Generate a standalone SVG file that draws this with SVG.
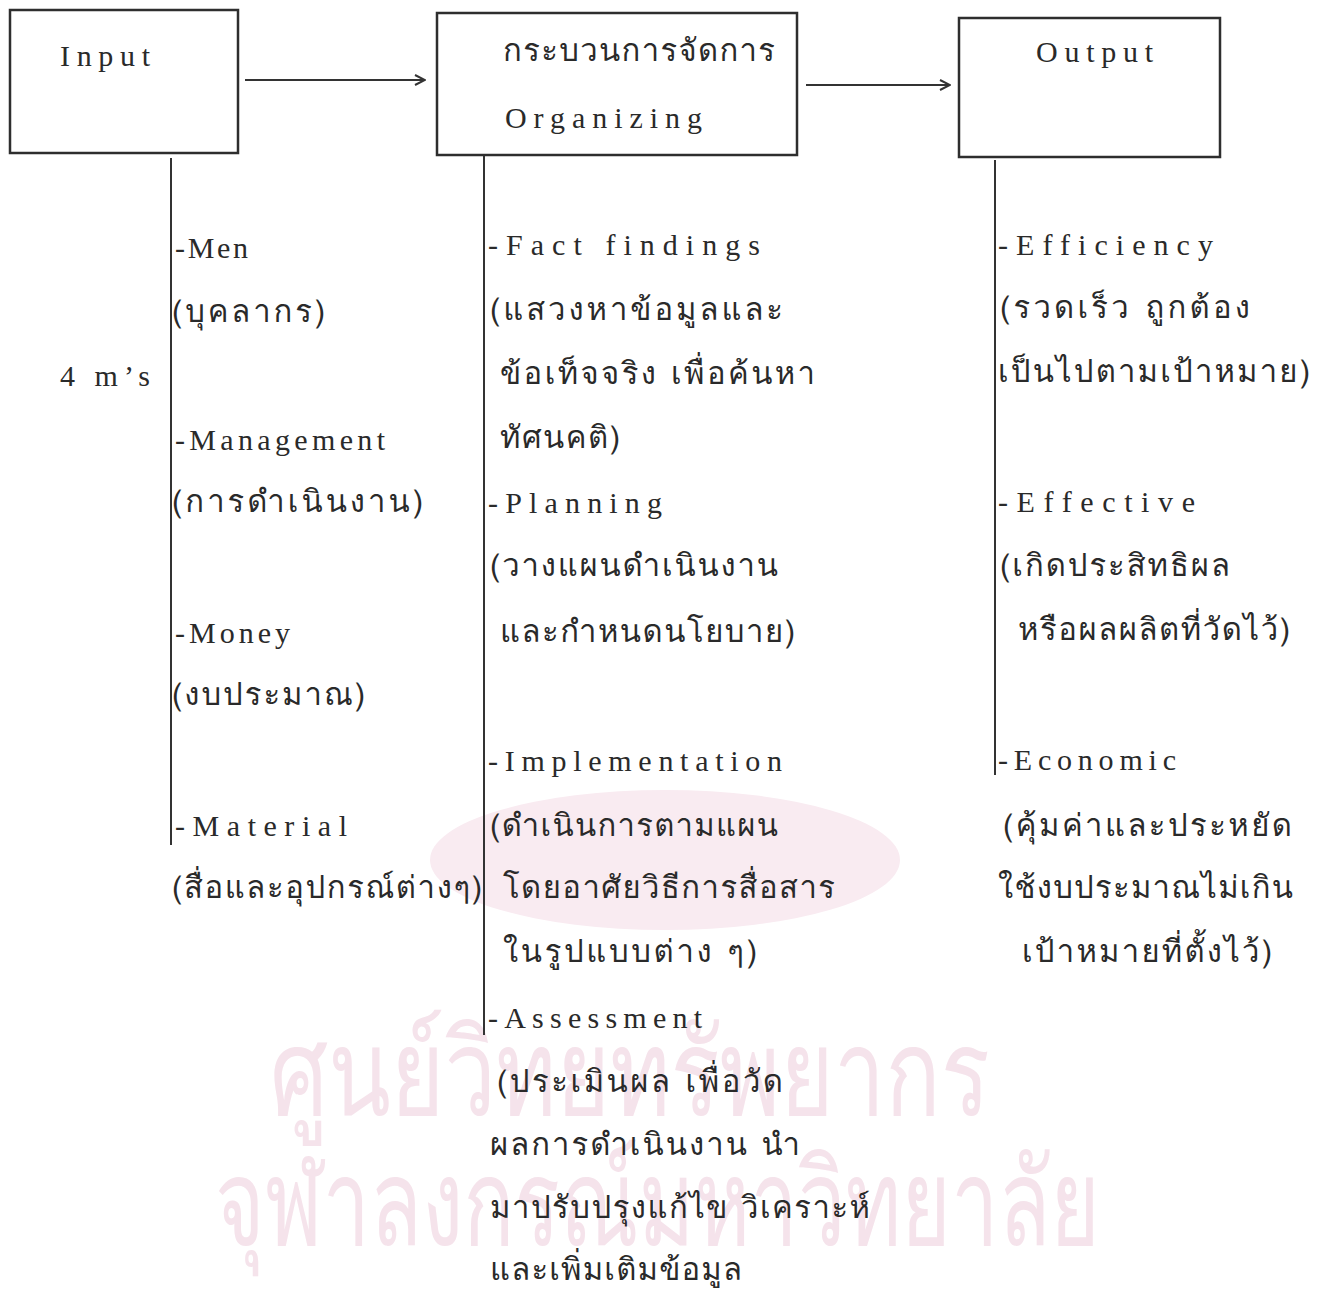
<svg xmlns="http://www.w3.org/2000/svg" width="1325" height="1296" viewBox="0 0 1325 1296">
<defs>
<style>
.box{fill:none;stroke:#2e2e2e;stroke-width:2.5}
.ln{fill:none;stroke:#333;stroke-width:2}
.en{font-family:"Liberation Serif","DejaVu Serif",serif;font-size:30px;fill:#2a2a2a}
.th{font-family:"Loma","Noto Sans Thai","Garuda","Tlwg Typist","Noto Sans",sans-serif;font-size:31px;fill:#2a2a2a}
.wm{font-family:"Loma","Noto Sans Thai","Garuda","Noto Sans",sans-serif;font-size:120px;fill:#f5e3eb}
</style>
<marker id="arr" viewBox="0 0 12 12" refX="11" refY="6" markerWidth="12" markerHeight="12" markerUnits="userSpaceOnUse" orient="auto">
<path d="M1,1 L11,6 L1,11" fill="none" stroke="#333" stroke-width="2"/>
</marker>
</defs>
<rect width="1325" height="1296" fill="#fff"/>
<g id="watermark">
<ellipse cx="665" cy="860" rx="235" ry="70" fill="#f9ebf1"/>
<text class="wm" x="270" y="1115" textLength="720" lengthAdjust="spacingAndGlyphs">ศูนย์วิทยทรัพยากร</text>
<text class="wm" x="215" y="1245" textLength="885" lengthAdjust="spacingAndGlyphs">จุฬาลงกรณ์มหาวิทยาลัย</text>
</g>
<g id="connectors">
<line class="ln" x1="245" y1="80" x2="425" y2="80" marker-end="url(#arr)"/>
<line class="ln" x1="806" y1="85" x2="950" y2="85" marker-end="url(#arr)"/>
<line class="ln" x1="171" y1="158" x2="171" y2="845"/>
<line class="ln" x1="484" y1="156" x2="484" y2="1035"/>
<line class="ln" x1="995" y1="160" x2="995" y2="775"/>
</g>
<g id="input">
<rect class="box" x="10" y="10" width="228" height="143"/>
<text class="en" x="60" y="66" textLength="90">Input</text>
</g>
<g id="organizing">
<rect class="box" x="437" y="13" width="360" height="142"/>
<text class="th" x="503" y="61" textLength="272">กระบวนการจัดการ</text>
<text class="en" x="505" y="128" textLength="197">Organizing</text>
</g>
<g id="output">
<rect class="box" x="959" y="18" width="261" height="139"/>
<text class="en" x="1036" y="62" textLength="117">Output</text>
</g>
<g id="input-items">
<text class="en" x="60" y="386" textLength="90">4 m’s</text>
<text class="en" x="175" y="258" textLength="73">-Men</text>
<text class="th" x="172" y="322" textLength="153">(บุคลากร)</text>
<text class="en" x="175" y="450" textLength="210">-Management</text>
<text class="th" x="172" y="512" textLength="251">(การดำเนินงาน)</text>
<text class="en" x="175" y="643" textLength="115">-Money</text>
<text class="th" x="172" y="705" textLength="193">(งบประมาณ)</text>
<text class="en" x="175" y="836" textLength="172">-Material</text>
<text class="th" x="172" y="898" textLength="310">(สื่อและอุปกรณ์ต่างๆ)</text>
</g>
<g id="organizing-items">
<text class="en" x="488" y="255" textLength="272">-Fact findings</text>
<text class="th" x="490" y="320" textLength="293">(แสวงหาข้อมูลและ</text>
<text class="th" x="500" y="384" textLength="315">ข้อเท็จจริง เพื่อค้นหา</text>
<text class="th" x="500" y="448" textLength="120">ทัศนคติ)</text>
<text class="en" x="488" y="513" textLength="174">-Planning</text>
<text class="th" x="490" y="576" textLength="288">(วางแผนดำเนินงาน</text>
<text class="th" x="500" y="642" textLength="295">และกำหนดนโยบาย)</text>
<text class="en" x="488" y="771" textLength="294">-Implementation</text>
<text class="th" x="490" y="836" textLength="288">(ดำเนินการตามแผน</text>
<text class="th" x="503" y="898" textLength="332">โดยอาศัยวิธีการสื่อสาร</text>
<text class="th" x="503" y="962" textLength="254">ในรูปแบบต่าง ๆ)</text>
<text class="en" x="488" y="1028" textLength="214">-Assessment</text>
<text class="th" x="497" y="1092" textLength="286">(ประเมินผล เพื่อวัด</text>
<text class="th" x="490" y="1155" textLength="310">ผลการดำเนินงาน นำ</text>
<text class="th" x="490" y="1218" textLength="380">มาปรับปรุงแก้ไข วิเคราะห์</text>
<text class="th" x="490" y="1280" textLength="252">และเพิ่มเติมข้อมูล</text>
</g>
<g id="output-items">
<text class="en" x="998" y="255" textLength="215">-Efficiency</text>
<text class="th" x="1000" y="318" textLength="250">(รวดเร็ว ถูกต้อง</text>
<text class="th" x="998" y="382" textLength="312">เป็นไปตามเป้าหมาย)</text>
<text class="en" x="998" y="512" textLength="197">-Effective</text>
<text class="th" x="1000" y="576" textLength="230">(เกิดประสิทธิผล</text>
<text class="th" x="1018" y="640" textLength="272">หรือผลผลิตที่วัดไว้)</text>
<text class="en" x="998" y="770" textLength="178">-Economic</text>
<text class="th" x="1003" y="836" textLength="289">(คุ้มค่าและประหยัด</text>
<text class="th" x="998" y="898" textLength="295">ใช้งบประมาณไม่เกิน</text>
<text class="th" x="1022" y="962" textLength="250">เป้าหมายที่ตั้งไว้)</text>
</g>
</svg>
